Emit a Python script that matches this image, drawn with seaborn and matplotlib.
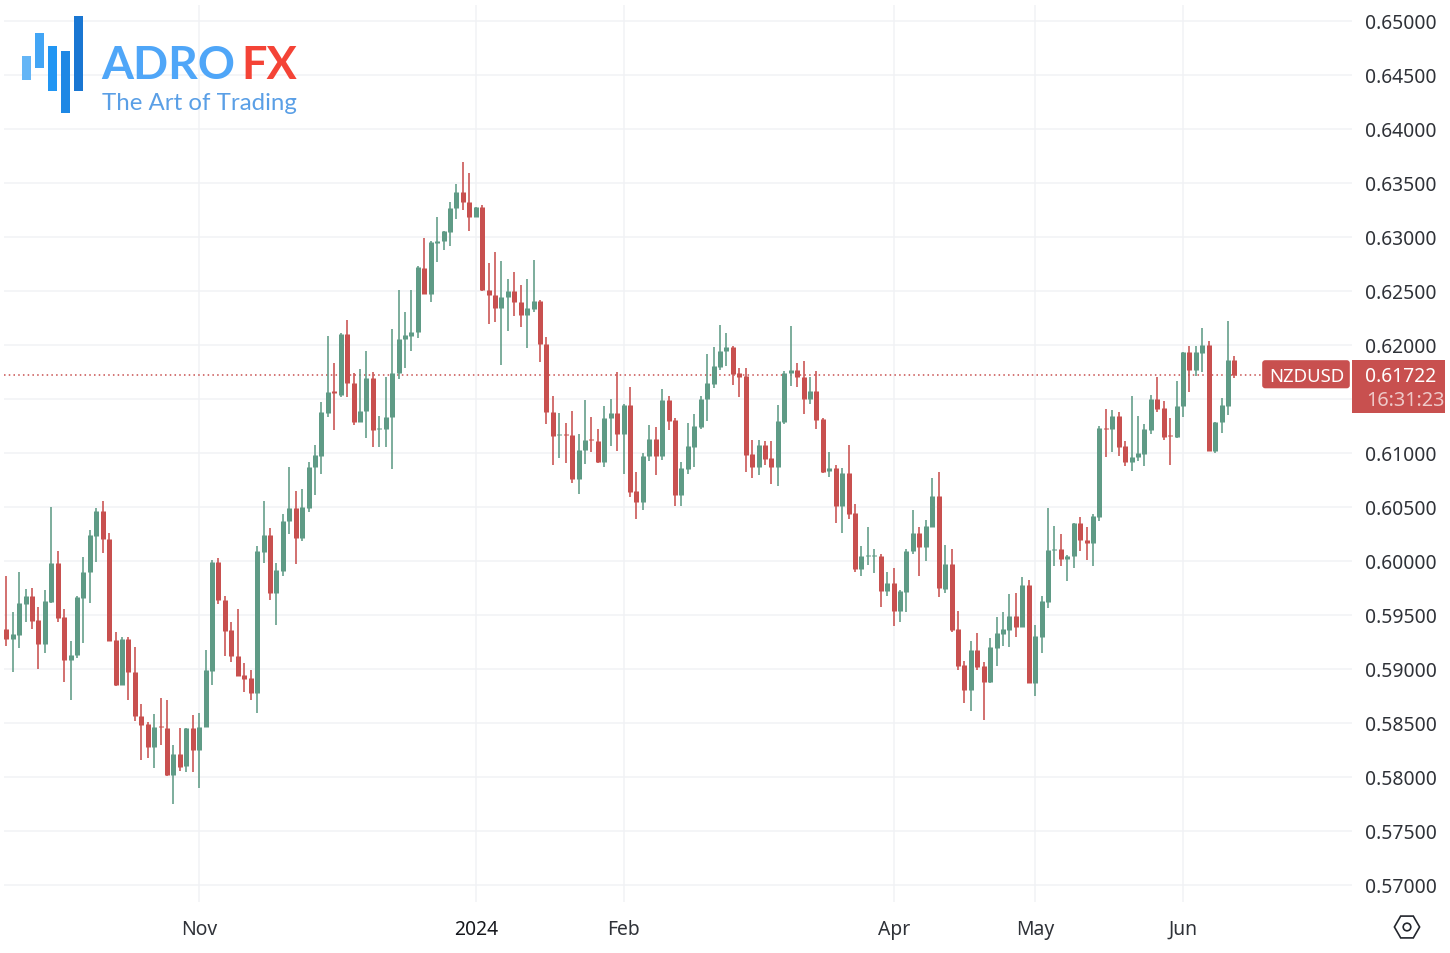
import numpy as np
import pandas as pd
import seaborn as sns
import matplotlib
matplotlib.use("Agg")
import matplotlib.pyplot as plt
from matplotlib.patches import Rectangle, FancyBboxPatch, RegularPolygon, Circle
from matplotlib.transforms import IdentityTransform

# Daily NZDUSD candles in 1e-5 price points
opens = [59366,59276,59313,59600,59674,59449,59224,59613,59977,59474,
59079,59125,59656,59894,60230,60461,60199,59261,58847,59276,
58968,58560,58483,58277,58465,58446,58014,58209,58094,58446,
58246,58456,58980,59983,59637,59357,59119,58940,58909,58770,
60082,60236,59702,59906,60363,60483,60212,60489,60866,60971,
61366,61566,61536,62097,61644,61286,61381,61693,61218,61221,
61329,61736,62048,62079,62113,62711,62471,62943,62961,63042,
63264,63412,63322,63184,63270,62505,62458,62341,62443,62498,
62397,62276,62329,62406,62002,61378,61159,61168,61159,60755,
61023,61125,61110,60912,61322,61366,61171,61440,60644,60545,
60964,61125,60964,61489,61301,60603,60847,61054,61236,61492,
61637,61795,61940,61977,61736,61708,60986,60863,61066,60946,
60863,61285,61733,61761,61699,61495,61566,61310,60832,60853,
60507,60807,60437,59921,60042,60042,60045,59717,59792,59529,
59711,60088,60254,60125,60313,60594,59739,59967,59366,59032,
58801,59168,59026,58875,59190,59319,59360,59486,59387,59776,
58863,59295,59619,60100,60106,60017,60042,60345,60194,60166,
60406,61230,61218,61338,61058,60912,60959,60990,61212,61496,
61409,61159,61144,61428,61928,61764,61925,61996,61017,61280,
61434,61857]
closes = [59273,59317,59607,59674,59443,59224,59622,59977,59468,59079,
59125,59665,59894,60236,60461,60196,59258,58847,59276,58968,
58560,58477,58277,58459,58456,58014,58209,58091,58449,58246,
58459,58986,59983,59631,59350,59113,58934,58903,58770,60085,
60236,59699,59912,60363,60486,60212,60492,60869,60977,61372,
61557,61554,62097,61641,61286,61384,61693,61212,61230,61329,
61736,62051,62088,62116,62718,62471,62952,62961,63048,63267,
63412,63322,63184,63270,62502,62455,62338,62443,62498,62394,
62276,62335,62403,62002,61372,61156,61168,61159,60755,61026,
61116,61116,60909,61322,61366,61171,61443,60637,60542,60971,
61125,60964,61489,61295,60607,60857,61057,61245,61495,61643,
61801,61943,61977,61727,61699,60980,60863,61066,60940,60863,
61292,61736,61761,61696,61495,61566,61301,60825,60853,60507,
60807,60430,59921,60038,60054,60054,59721,59792,59529,59717,
60091,60254,60125,60319,60594,59742,59967,59356,59023,58801,
59168,59017,58878,59199,59326,59366,59486,59387,59776,58863,
59301,59625,60100,60112,60017,60045,60345,60190,60166,60416,
61224,61221,61338,61051,60909,60962,60996,61215,61496,61403,
61144,61150,61434,61928,61764,61928,61996,61017,61280,61437,
61857,61722]
highs = [59853,59520,59890,59736,59742,59566,59730,60492,60085,59551,
59252,59674,60036,60279,60483,60554,60255,59335,59289,59289,
59196,58672,58508,58579,58724,58705,58295,58446,58452,58570,
58588,59175,60005,60020,59674,59428,59551,59051,58986,60131,
60548,60298,59977,60431,60863,60640,60662,60909,61069,61471,
62082,61826,62103,62227,61736,61773,61937,61749,61341,61699,
62141,62502,62298,62508,62724,62986,62961,63177,63048,63322,
63489,63693,63588,63270,63292,62758,62853,62773,62606,62668,
62551,62606,62779,62415,62066,61520,61363,61270,61381,61171,
61489,61326,61214,61434,61495,61742,61449,61603,60823,60992,
61255,61233,61585,61520,61316,60915,61273,61356,61520,61909,
61974,62180,62106,61989,61779,61779,61119,61119,61110,61103,
61440,61758,62168,61826,61844,61696,61751,61325,61001,60884,
60853,61072,60520,60131,60307,60106,60060,59890,59927,59730,
60106,60467,60307,60378,60764,60825,60146,60106,59535,59072,
59252,59329,59063,59282,59480,59520,59690,59699,59847,59816,
59403,59674,60483,60319,60248,60054,60348,60400,60308,60428,
61243,61403,61394,61379,61104,61527,61338,61267,61533,61696,
61477,61317,61659,61928,61983,61983,62153,62036,61280,61505,
62215,61897]
lows = [59212,58965,59193,59434,59366,58996,59147,59607,59434,58878,
58712,59100,59236,59607,59989,60069,59258,58841,58847,58712,
58517,58156,58175,58079,58292,58008,57743,58051,58045,58039,
57891,58456,58847,59597,59119,59063,58934,58786,58705,58588,
59977,59637,59406,59854,60245,59971,60184,60446,60610,60801,
61326,61209,61517,61517,61255,61286,61131,61048,61054,61054,
60847,61681,61782,61943,62063,62471,62390,62761,62875,62915,
63162,63245,63054,63184,62495,62190,62211,61813,62128,62267,
62159,61965,62298,61835,61264,60884,60949,60903,60718,60616,
60894,61002,60906,60863,61057,61017,60798,60585,60384,60471,
60924,60792,60931,61208,60502,60508,60801,60863,61218,61292,
61600,61764,61804,61622,61514,60823,60767,60792,60884,60708,
60693,61264,61613,61606,61356,61449,61214,60810,60776,60347,
60251,60384,59896,59859,59961,59884,59572,59674,59397,59434,
59526,60057,59859,59995,60313,59665,59696,59341,58989,58681,
58607,58989,58523,58869,59026,59208,59202,59295,59387,58863,
58748,59143,59563,59952,59952,59813,59931,60089,60008,59953,
60369,60959,61008,60965,60879,60832,60925,60879,61175,61379,
61113,60888,61132,61332,61564,61712,61743,61017,60999,61178,
61351,61693]

month_positions = [30, 73, 96, 138, 160, 183]
month_labels = ["Nov", "2024", "Feb", "Apr", "May", "Jun"]
price_ticks = [0.57, 0.575, 0.58, 0.585, 0.59, 0.595, 0.60, 0.605, 0.61,
               0.615, 0.62, 0.625, 0.63, 0.635, 0.64, 0.645, 0.65]
price_labels = ["0.57000", "0.57500", "0.58000", "0.58500", "0.59000", "0.59500",
                "0.60000", "0.60500", "0.61000", "", "0.62000", "0.62500", "0.63000",
                "0.63500", "0.64000", "0.64500", "0.65000"]
last_price = 0.61722
symbol = "NZDUSD"
countdown = "16:31:23"

GREEN = "#5f9b86"
RED = "#c8504f"
GRID = "#f1f2f5"
INK = "#2f3238"

W, H = 1450, 954
sns.set_theme(style="white", rc={"axes.grid": True, "grid.color": GRID, "grid.linewidth": 1.1})
plt.rcParams["font.family"] = ["Noto Sans", "DejaVu Sans"]

fig = plt.figure(figsize=(W / 100, H / 100), dpi=100, facecolor="white")
L, R_, T, B = 4, 1352, 6, 903
ax = fig.add_axes([L / W, (H - B) / H, (R_ - L) / W, (B - T) / H])

o, c, h, l = [np.array(a) / 1e5 for a in (opens, closes, highs, lows)]
idx = np.arange(len(opens))
direction = np.where(c >= o, "up", "down")
palette = {"up": GREEN, "down": RED}

wicks = pd.concat([
    pd.DataFrame({"bar": idx, "x": idx, "price": h, "dir": direction}),
    pd.DataFrame({"bar": idx, "x": idx, "price": l, "dir": direction}),
])
bodies = pd.concat([
    pd.DataFrame({"bar": idx, "x": idx, "price": o, "dir": direction}),
    pd.DataFrame({"bar": idx, "x": idx, "price": c, "dir": direction}),
])
common = dict(x="x", y="price", units="bar", estimator=None, hue="dir",
              palette=palette, sort=False, legend=False, ax=ax, solid_capstyle="butt")
sns.lineplot(data=wicks, linewidth=1.15, **common)
sns.lineplot(data=bodies, linewidth=3.6, **common)

bar_step = 6.43
x0 = 6.3
ax.set_xlim((L - x0) / bar_step, (R_ - x0) / bar_step)
ax.set_ylim(0.57 + (885.6 - B) / 10800, 0.57 + (885.6 - T) / 10800)

ax.plot([(L - x0) / bar_step, (1262 - x0) / bar_step], [last_price, last_price],
        color=RED, lw=1.1, linestyle=(0, (1, 2.1)), zorder=1.5)

ax.yaxis.tick_right()
ax.set_yticks(price_ticks)
ax.set_yticklabels(price_labels, fontsize=13.9, color=INK)
ax.set_xticks(month_positions)
ax.set_xticklabels(month_labels, fontsize=13.9, color=INK)
ax.get_xticklabels()[1].set_fontweight("bold")
ax.get_xticklabels()[1].set_color("#15171c")
ax.tick_params(axis="y", length=0, pad=9.2)
ax.tick_params(axis="x", length=0, pad=12.2)
ax.set_xlabel("")
ax.set_ylabel("")
ax.grid(True, zorder=0)
ax.set_axisbelow(True)
sns.despine(ax=ax, left=True, bottom=True, right=True, top=True)

# Overlays drawn in figure pixel coordinates (y measured from the top of the image)
px = IdentityTransform()


def top(y):
    return H - y


def rect(x1, y1, x2, y2, color):
    fig.add_artist(Rectangle((x1, top(y2)), x2 - x1, y2 - y1, transform=px,
                             facecolor=color, edgecolor="none", zorder=5))


fig.add_artist(FancyBboxPatch((1264, top(387.5)), 84, 24.5, boxstyle="round,pad=1.8,rounding_size=3",
                              transform=px, facecolor=RED, edgecolor="none", zorder=5))
rect(1352, 361, 1445, 414, RED)
fig.text(1306.5, top(377), symbol, transform=px, color="white", fontsize=13.3,
         ha="center", va="center", zorder=6)
fig.text(1401, top(377), f"{last_price:.5f}", transform=px, color="white", fontsize=13.9,
         ha="center", va="center", zorder=6, fontweight="semibold")
fig.text(1405, top(401), countdown, transform=px, color="#eec9c8", fontsize=14.3,
         ha="center", va="center", zorder=6)

# Settings icon
fig.add_artist(RegularPolygon((1407, top(928)), 6, radius=12.6, orientation=np.pi / 2, transform=px,
                              facecolor="none", edgecolor="#23262d", linewidth=1.2, zorder=5))
fig.add_artist(Circle((1407, top(928)), 3.8, transform=px, facecolor="none",
                      edgecolor="#23262d", linewidth=1.2, zorder=5))

# Logo
for x1, y1, x2, y2, col in [(22, 56.7, 31, 80.7, "#64b5f6"), (35, 34.2, 44, 68.7, "#42a5f5"),
                            (48, 46.7, 57, 91.7, "#2196f3"), (61, 51.7, 70, 113.7, "#1e88e5"),
                            (74, 16.7, 83, 91.7, "#1976d2")]:
    rect(x1, y1, x2, y2, col)
fig.text(101.5, top(79), "ADRO", transform=px, color="#4fa6f8", fontsize=33.2, family="Lato",
         fontweight="bold", ha="left", va="baseline", zorder=6)
fig.text(241.5, top(79), "FX", transform=px, color="#f44336", fontsize=32.5, family="Lato",
         fontweight="bold", ha="left", va="baseline", zorder=6)
fig.text(102, top(110), "The Art of Trading", transform=px, color="#5a9fe6", fontsize=17.3,
         family="Lato", fontweight="normal", ha="left", va="baseline", zorder=6)

fig.savefig("out.png", dpi=100, facecolor="white")
